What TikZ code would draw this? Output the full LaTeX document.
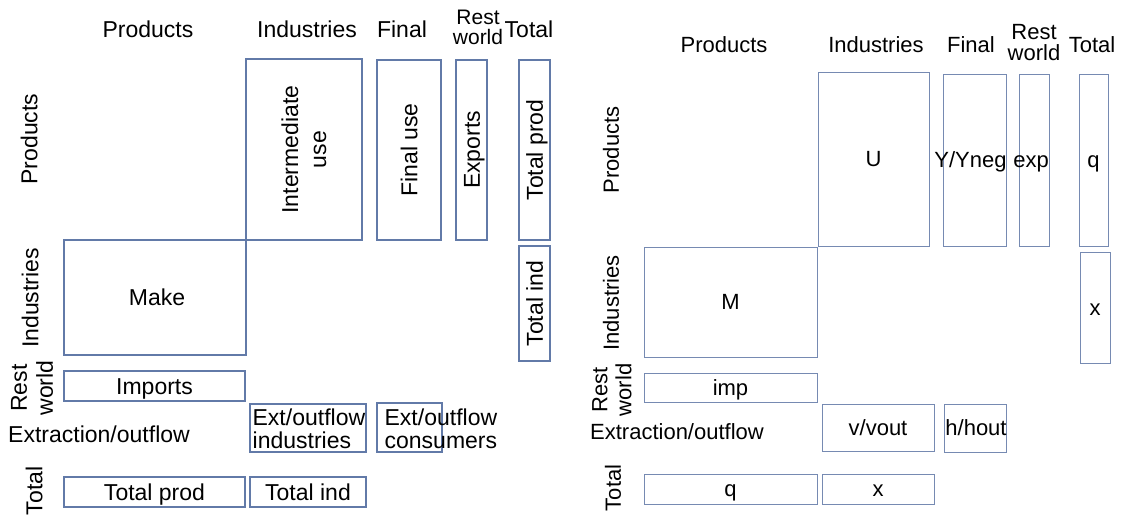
\documentclass[tikz,border=0pt]{standalone}
\usepackage{fontspec}
\setmainfont{Liberation Sans}
\definecolor{boxc}{RGB}{98,122,168}
\definecolor{boxd}{RGB}{118,138,178}
\newcommand\fa{\fontsize{23}{27}\selectfont}
\newcommand\fb{\fontsize{22}{26}\selectfont}
\begin{document}
\begin{tikzpicture}[x=1pt,y=-1pt,
  box/.style={draw=boxc,line width=1.1pt,inner sep=0pt,minimum width=#1},
  box/.default=10,
  rbox/.style={box=#1,draw=boxd,line width=1pt},
  rbox/.default=10,
  txt/.style={inner sep=0pt,text=black},
  lt/.style={txt,font=\fa},
  rt/.style={txt,font=\fb},
  ls/.style={lt,text height=16.5pt,text depth=0pt},
  rs/.style={rt,text height=15.8pt,text depth=0pt},
  vt/.style={rotate=90,align=center}]
\useasboundingbox (0,0) rectangle (1125,515);

% ---------- left table: names of the blocks ----------
\node[ls] (hP) at (148,29) {Products};
\node[ls] (hI) at (307,29) {Industries};
\node[ls] (hF) at (402,29) {Final};
\node[txt,align=center,font=\fontsize{21}{20}\selectfont] (hR) at (478,27) {Rest\\world};
\node[ls] (hT) at (529,29) {Total};

\node[ls,rotate=90] (rP) at (29,139) {Products};
\node[ls,rotate=90] (rI) at (30,298) {Industries};
\node[lt,vt,font=\fontsize{23}{26}\selectfont] (rR) at (32,388) {Rest\\world};
\node[ls] (rE) at (99,434) {Extraction/outflow};
\node[ls,rotate=90] (rT) at (34,491) {Total};

% ---------- left table: blocks ----------
\node[box=116,minimum height=181] (iu) at (304,149.5) {};
\node[lt,vt,font=\fontsize{23}{28}\selectfont] at (iu.center) {Intermediate\\use};
\node[box=64,minimum height=180] (fu) at (409,150) {};
\node[ls,rotate=90] at (fu.center) {Final use};
\node[box=31,minimum height=180] (ex) at (471.5,150) {};
\node[ls,rotate=90] at (ex.center) {Exports};
\node[box=31,minimum height=180] (tpa) at (534.5,150) {};
\node[ls,rotate=90] at (tpa.center) {Total prod};

\node[box=182,minimum height=115] (mk) at (155,297.5) {};
\node[ls] at ([xshift=2pt]mk.center) {Make};
\node[box=31,minimum height=115] (tia) at (534.5,303.5) {};
\node[ls,rotate=90] at (tia.center) {Total ind};

\node[box=181,minimum height=30] (im) at (154.5,386) {};
\node[ls] at (im.center) {Imports};

\node[box=116,minimum height=48] (eoi) at (308,428) {};
\node[lt,anchor=west,align=left,font=\fontsize{23}{23}\selectfont]
  at ([xshift=3pt,yshift=-1pt]eoi.west) {Ext/outflow\\industries};
\node[box=65,minimum height=49] (eoc) at (409.5,427.5) {};
\node[lt,anchor=west,align=left,font=\fontsize{23}{23}\selectfont]
  at ([xshift=8pt,yshift=-1pt]eoc.west) {Ext/outflow\\consumers};

\node[box=181,minimum height=30] (tpb) at (154.5,492) {};
\node[ls] at (tpb.center) {Total prod};
\node[box=116,minimum height=30] (tib) at (308,492) {};
\node[ls] at (tib.center) {Total ind};

% ---------- right table: names of the blocks ----------
\node[rs] (sP) at (724,45) {Products};
\node[rs] (sI) at (876,45) {Industries};
\node[rs] (sF) at (971,45) {Final};
\node[txt,align=center,font=\fontsize{22}{21}\selectfont] (sR) at (1034,43) {Rest\\world};
\node[rs] (sT) at (1092,45) {Total};

\node[rs,rotate=90] (qP) at (611,150) {Products};
\node[rs,rotate=90] (qI) at (611,303) {Industries};
\node[rt,vt,font=\fontsize{22}{24}\selectfont] (qR) at (612,390) {Rest\\world};
\node[rs] (qE) at (677,432) {Extraction/outflow};
\node[rs,rotate=90] (qT) at (613,488) {Total};

% ---------- right table: blocks ----------
\node[rbox=111,minimum height=174] (U) at (873.5,159) {};
\node[rs] at (U.center) {U};
\node[rbox=63,minimum height=172] (Y) at (974.5,160) {};
\node[rs] at ([xshift=-4pt]Y.center) {Y/Yneg};
\node[rbox=30,minimum height=172] (xp) at (1034,160) {};
\node[rs] at ([xshift=-3pt]xp.center) {exp};
\node[rbox=29,minimum height=172] (qa) at (1093.5,160) {};
\node[rs] at (qa.center) {q};

\node[rbox=173,minimum height=110] (M) at (730.5,302) {};
\node[rs] at (M.center) {M};
\node[rbox=30,minimum height=111] (xa) at (1095,307.5) {};
\node[rs] at (xa.center) {x};

\node[rbox=173,minimum height=29] (ip) at (730.5,387.5) {};
\node[rs] at (ip.center) {imp};

\node[rbox=112,minimum height=47] (vv) at (878,427.5) {};
\node[rs] at (vv.center) {v/vout};
\node[rbox=62,minimum height=48] (hh) at (975,428) {};
\node[rs] at ([xshift=1pt]hh.center) {h/hout};

\node[rbox=173,minimum height=30] (qb) at (730.5,489) {};
\node[rs] at (qb.center) {q};
\node[rbox=112,minimum height=30] (xb) at (878,489) {};
\node[rs] at (xb.center) {x};
\end{tikzpicture}
\end{document}
